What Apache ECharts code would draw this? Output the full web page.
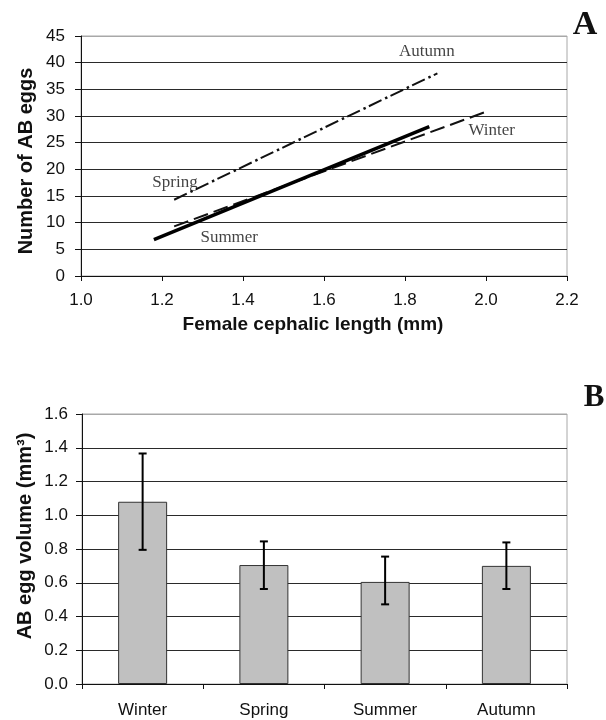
<!DOCTYPE html>
<html><head><meta charset="utf-8">
<script src="https://cdn.jsdelivr.net/npm/echarts@6/dist/echarts.min.js"></script>
<style>html,body{margin:0;padding:0;background:#fff}#c{width:606px;height:720px}</style>
</head><body><div id="c"></div>
<script>
// Panel A: regression lines (female cephalic length vs number of AB eggs)
const summerX = [1.18, 1.86];
const summerY = [6.8, 28.0];
const winterX = [1.23, 2.0];
const winterY = [9.3, 30.8];
const springX = [1.23, 1.88];
const springY = [14.3, 38.0];
const autumnX = [1.23, 1.88];
const autumnY = [14.3, 38.0];
const lineLabels = ['Autumn', 'Winter', 'Spring', 'Summer'];
const lineLabelX = [1.854, 2.014, 1.232, 1.366];
const lineLabelY = [42.1, 27.2, 17.6, 7.3];

// Panel B: AB egg volume by season
const seasons = ['Winter', 'Spring', 'Summer', 'Autumn'];
const eggVolume = [1.08, 0.705, 0.605, 0.70];
const volumeLow = [0.795, 0.563, 0.472, 0.563];
const volumeHigh = [1.366, 0.845, 0.755, 0.839];

const sans = 'Liberation Sans';
const serif = 'Liberation Serif';
const pts = (xs, ys) => xs.map((x, i) => [x, ys[i]]);

const gridA = Array(9).fill('#2a2a2a').concat(['#a8a8a8']);
const gridB = Array(8).fill('#2a2a2a').concat(['#a8a8a8']);
const titleStyle = (t, size) => ({text: t, fontFamily: sans, fontSize: size, fontWeight: 'bold', fill: '#111', textAlign: 'center', textVerticalAlign: 'middle'});

const chart = echarts.init(document.getElementById('c'), null, {renderer: 'canvas'});
chart.setOption({
  animation: false,
  backgroundColor: '#fff',
  grid: [
    {left: 81, right: 39, top: 36, height: 240, show: true, borderColor: '#a8a8a8', borderWidth: 1},
    {left: 82, right: 39, top: 414, height: 270, show: true, borderColor: '#a8a8a8', borderWidth: 1}
  ],
  xAxis: [
    {type: 'value', gridIndex: 0, min: 1.0, max: 2.2, interval: 0.2,
     axisLine: {show: true, lineStyle: {color: '#111', width: 1}},
     axisTick: {show: true, inside: false, length: 5, lineStyle: {color: '#111'}},
     axisLabel: {fontFamily: sans, fontSize: 17, color: '#111', margin: 16, formatter: v => v.toFixed(1)},
     splitLine: {show: false}},
    {type: 'category', gridIndex: 1, data: seasons, boundaryGap: true,
     axisLine: {show: true, lineStyle: {color: '#111', width: 1}},
     axisTick: {show: true, inside: false, length: 5, alignWithLabel: false, lineStyle: {color: '#111'}},
     axisLabel: {fontFamily: sans, fontSize: 17, color: '#111', margin: 18},
     splitLine: {show: false}}
  ],
  yAxis: [
    {type: 'value', gridIndex: 0, min: 0, max: 45, interval: 5,
     axisLine: {show: true, lineStyle: {color: '#111', width: 1}},
     axisTick: {show: true, inside: false, length: 6, lineStyle: {color: '#111'}},
     axisLabel: {fontFamily: sans, fontSize: 17, color: '#111', margin: 16},
     splitLine: {show: true, lineStyle: {color: gridA, width: 1.2}}},
    {type: 'value', gridIndex: 1, min: 0, max: 1.6, interval: 0.2,
     axisLine: {show: true, lineStyle: {color: '#111', width: 1}},
     axisTick: {show: true, inside: false, length: 6, lineStyle: {color: '#111'}},
     axisLabel: {fontFamily: sans, fontSize: 17, color: '#111', margin: 14, formatter: v => v.toFixed(1)},
     splitLine: {show: true, lineStyle: {color: gridB, width: 1.2}}}
  ],
  graphic: [
    {type: 'text', x: 313, y: 325, style: titleStyle('Female cephalic length (mm)', 19)},
    {type: 'text', x: 26, y: 161, rotation: Math.PI / 2, style: titleStyle('Number of AB eggs', 20)},
    {type: 'text', x: 25, y: 536, rotation: Math.PI / 2, style: titleStyle('AB egg volume (mm\u00B3)', 20)},
    {type: 'text', x: 585, y: 25, style: {text: 'A', fontFamily: serif, fontSize: 34, fontWeight: 'bold', fill: '#111', textAlign: 'center', textVerticalAlign: 'middle'}},
    {type: 'text', x: 594, y: 398, style: {text: 'B', fontFamily: serif, fontSize: 31, fontWeight: 'bold', fill: '#111', textAlign: 'center', textVerticalAlign: 'middle'}}
  ],
  series: [
    {type: 'line', name: 'Winter', xAxisIndex: 0, yAxisIndex: 0, data: pts(winterX, winterY),
     symbol: 'none', lineStyle: {color: '#111', width: 2, type: [15, 6]}, z: 3},
    {type: 'line', name: 'Summer', xAxisIndex: 0, yAxisIndex: 0, data: pts(summerX, summerY),
     symbol: 'none', lineStyle: {color: '#000', width: 3.5, type: 'solid'}, z: 4},
    {type: 'line', name: 'Spring', xAxisIndex: 0, yAxisIndex: 0, data: pts(springX, springY),
     symbol: 'none', lineStyle: {color: '#111', width: 2, type: [14, 10]}, z: 3},
    {type: 'line', name: 'Autumn', xAxisIndex: 0, yAxisIndex: 0, data: pts(autumnX, autumnY),
     symbol: 'none', lineStyle: {color: '#111', width: 2.5, type: [2.5, 21.5], dashOffset: 6}, z: 3},
    {type: 'scatter', xAxisIndex: 0, yAxisIndex: 0, symbolSize: 0, silent: true, z: 5,
     data: lineLabels.map((n, i) => ({name: n, value: [lineLabelX[i], lineLabelY[i]]})),
     label: {show: true, position: 'inside', formatter: p => p.name, fontFamily: serif, fontSize: 17, color: '#111'}},
    {type: 'bar', xAxisIndex: 1, yAxisIndex: 1, data: eggVolume, barWidth: 49,
     itemStyle: {color: '#c0c0c0', borderColor: '#333', borderWidth: 1}},
    {type: 'custom', xAxisIndex: 1, yAxisIndex: 1, z: 5,
     data: seasons.map((s, i) => [i, volumeLow[i], volumeHigh[i]]),
     renderItem: (params, api) => {
       const lo = api.coord([api.value(0), api.value(1)]);
       const hi = api.coord([api.value(0), api.value(2)]);
       const st = {stroke: '#000', lineWidth: 2};
       const c = 4;
       return {type: 'group', children: [
         {type: 'line', shape: {x1: lo[0], y1: lo[1], x2: hi[0], y2: hi[1]}, style: st},
         {type: 'line', shape: {x1: hi[0] - c, y1: hi[1], x2: hi[0] + c, y2: hi[1]}, style: st},
         {type: 'line', shape: {x1: lo[0] - c, y1: lo[1], x2: lo[0] + c, y2: lo[1]}, style: st}
       ]};
     }}
  ]
});
</script></body></html>
